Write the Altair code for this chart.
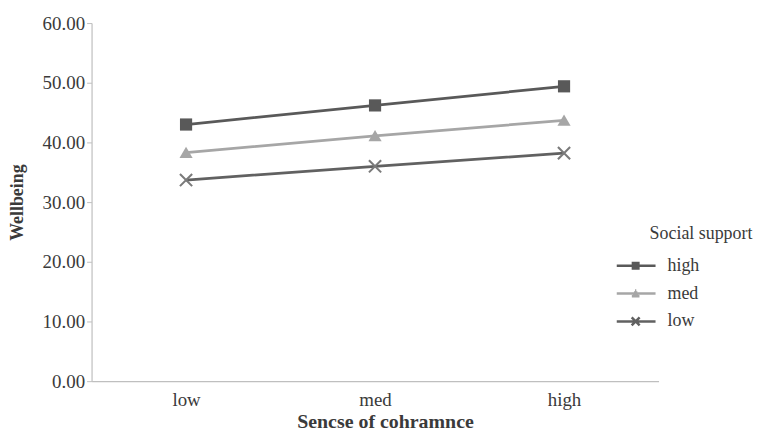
import altair as alt
import pandas as pd

# ---- data ----
x_levels = ["low", "med", "high"]
series_names = ["high", "med", "low"]
high_vals = [43.0, 46.2, 49.4]
med_vals = [38.3, 41.1, 43.7]
low_vals = [33.7, 36.0, 38.2]
y_ticks = [0, 10, 20, 30, 40, 50, 60]

line_colors = ["#595959", "#a6a6a6", "#616161"]
marker_colors = ["#595959", "#a6a6a6", "#7a7a7a"]

rows = []
for name, vals in zip(series_names, [high_vals, med_vals, low_vals]):
    for lvl, v in zip(x_levels, vals):
        rows.append({"coherence": lvl, "wellbeing": v, "support": name})
df = pd.DataFrame(rows)

FONT = "Liberation Serif"
TXT = "#3a3a3a"

# ---- plot markers (unit box -1..1) ----
SQUARE = "M-1,-1H1V1H-1Z"
TRI = "M0,-0.95L1.08,0.9L-1.08,0.9Z"


def xpath(c, s, d):
    a = f"M{c-s+d:.3f},{-s-d:.3f}L{c+s+d:.3f},{s-d:.3f}L{c+s-d:.3f},{s+d:.3f}L{c-s-d:.3f},{-s+d:.3f}Z"
    b = f"M{c-s-d:.3f},{s-d:.3f}L{c+s-d:.3f},{-s-d:.3f}L{c+s+d:.3f},{-s+d:.3f}L{c-s+d:.3f},{s+d:.3f}Z"
    return a + " " + b


XMARK = xpath(0, 1.0, 0.12)

# ---- legend symbols (stroked paths, 1 unit = 1 px): line segment + marker ----
c = -23.0
LEG_LINE = "M-42,0H-3"
LEG_SQ = LEG_LINE + "".join(f" M{c-4:.2f},{y:.2f}H{c+4:.2f}" for y in [-2.75, -0.9, 0.9, 2.75])
LEG_TRI = LEG_LINE + "".join(
    f" M{c-hw:.2f},{y:.2f}H{c+hw:.2f}"
    for y, hw in [(-3.25, 0.66), (-1.25, 1.72), (0.75, 2.78), (2.75, 3.84)]
)
LEG_X = LEG_LINE + f" M{c-4:.2f},-4L{c+4:.2f},4 M{c-4:.2f},4L{c+4:.2f},-4"

x_enc = alt.X(
    "coherence:N",
    scale=alt.Scale(domain=x_levels, type="point", padding=0.5),
    axis=alt.Axis(
        labelAngle=0, ticks=False, tickSize=0, labelPadding=9,
        labelFont=FONT, labelFontSize=19, labelColor=TXT,
        titleFont=FONT, titleFontSize=20, titleFontWeight="bold", titleColor=TXT,
        titleX=295, titleY=41, titleBaseline="middle",
    ),
    title="Sencse of cohramnce",
)
y_enc = alt.Y(
    "wellbeing:Q",
    scale=alt.Scale(domain=[0, 60], nice=False),
    axis=alt.Axis(
        values=y_ticks, format=".2f", tickSize=5, labelPadding=2,
        labelFont=FONT, labelFontSize=19, labelColor=TXT,
        titleFont=FONT, titleFontSize=18, titleFontWeight="bold", titleColor=TXT,
        titleX=-74, titleY=180, titleBaseline="middle",
    ),
    title="Wellbeing",
)

base = alt.Chart(df)

leg = alt.Legend(
    orient="none", legendX=561, legendY=203,
    title="Social support",
    titleFont=FONT, titleFontSize=18, titleFontWeight="normal", titleColor=TXT,
    titlePadding=14,
    labelFont=FONT, labelFontSize=18, labelColor=TXT,
    labelOffset=0,
    symbolSize=4, symbolStrokeWidth=2.5, symbolOpacity=1,
    rowPadding=10, padding=0,
)

lines = base.mark_line(strokeWidth=2.75).encode(
    x=x_enc, y=y_enc,
    color=alt.Color("support:N", scale=alt.Scale(domain=series_names, range=line_colors), legend=leg),
)

point_layers = []
for name, shp, col in zip(series_names, [SQUARE, TRI, XMARK], marker_colors):
    point_layers.append(
        base.transform_filter(alt.datum.support == name)
        .mark_point(shape=shp, filled=True, size=150, opacity=1, color=col)
        .encode(x=x_enc, y=y_enc)
    )

# invisible layer that only supplies the legend's symbol shapes
legend_layer = (
    base.mark_point(size=4, opacity=0)
    .encode(
        x=x_enc, y=y_enc,
        shape=alt.Shape("support:N", scale=alt.Scale(domain=series_names, range=[LEG_SQ, LEG_TRI, LEG_X]), legend=leg),
    )
)

chart = (
    alt.layer(lines, *point_layers, legend_layer)
    .properties(
        width=570, height=360,
        autosize=alt.AutoSizeParams(type="none"),
        padding={"left": 84, "top": 14, "right": 100, "bottom": 52},
        background="white",
    )
    .configure_view(strokeWidth=0)
    .configure_axis(grid=False, domainColor="#bfbfbf", tickColor="#bfbfbf", domainWidth=1.2)
    .configure_legend(labelFont=FONT, titleFont=FONT)
)

chart.save("out.html", embed_options={"renderer": "svg", "actions": False})
